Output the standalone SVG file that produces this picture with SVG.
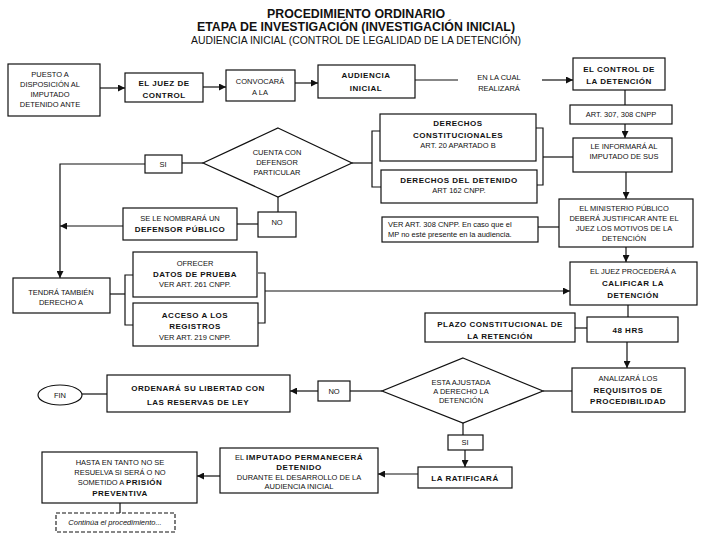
<svg xmlns="http://www.w3.org/2000/svg" width="720" height="540" viewBox="0 0 720 540">
<style>
.b{fill:#fff;stroke:#111;stroke-width:1.2}
.d{fill:#fff;stroke:#111;stroke-width:1.1;stroke-dasharray:4 2}
.c{fill:none;stroke:#111;stroke-width:1.2}
text{font-family:"Liberation Sans",Arial,sans-serif;font-size:7.5px;text-anchor:middle;fill:#111}
.k{font-weight:bold;letter-spacing:0.5px;font-size:8px}
.h{font-weight:bold;font-size:12.5px}
.s{font-size:10.5px}
.l{text-anchor:start}
.i{font-style:italic}
</style>
<defs>
<marker id="a" viewBox="0 0 10 10" refX="10" refY="5" markerWidth="7" markerHeight="7" markerUnits="userSpaceOnUse" orient="auto">
<path d="M0,0 L10,5 L0,10 z" fill="#111"/>
</marker>
</defs>
<rect width="720" height="540" fill="#fff"/>
<g id="title">
<text class="h" x="356" y="18" textLength="178" lengthAdjust="spacingAndGlyphs">PROCEDIMIENTO ORDINARIO</text>
<text class="h" x="356" y="31" textLength="318" lengthAdjust="spacingAndGlyphs">ETAPA DE INVESTIGACIÓN (INVESTIGACIÓN INICIAL)</text>
<text class="s" x="356" y="44" textLength="330" lengthAdjust="spacingAndGlyphs">AUDIENCIA INICIAL (CONTROL DE LEGALIDAD DE LA DETENCIÓN)</text>
</g>
<g id="connectors">
<line class="c" x1="100" y1="88" x2="125" y2="88" marker-end="url(#a)"/>
<line class="c" x1="203" y1="87" x2="226" y2="87" marker-end="url(#a)"/>
<line class="c" x1="295" y1="83" x2="318" y2="83" marker-end="url(#a)"/>
<line class="c" x1="415" y1="80" x2="458" y2="80"/>
<line class="c" x1="542" y1="80" x2="573" y2="80" marker-end="url(#a)"/>
<line class="c" x1="625" y1="90" x2="625" y2="105"/>
<line class="c" x1="625" y1="124" x2="625" y2="138" marker-end="url(#a)"/>
<line class="c" x1="626" y1="172" x2="626" y2="199" marker-end="url(#a)"/>
<line class="c" x1="626" y1="247" x2="626" y2="262" marker-end="url(#a)"/>
<line class="c" x1="628" y1="305" x2="628" y2="317"/>
<line class="c" x1="575" y1="328" x2="587" y2="328"/>
<line class="c" x1="627" y1="342" x2="627" y2="368" marker-end="url(#a)"/>
<line class="c" x1="572" y1="391" x2="543" y2="391"/>
<line class="c" x1="382" y1="391" x2="350" y2="391"/>
<line class="c" x1="318" y1="391" x2="290" y2="391" marker-end="url(#a)"/>
<line class="c" x1="107" y1="394" x2="82" y2="394"/>
<line class="c" x1="463" y1="422" x2="463" y2="435"/>
<line class="c" x1="465" y1="450" x2="465" y2="467" marker-end="url(#a)"/>
<line class="c" x1="418" y1="474" x2="378" y2="474" marker-end="url(#a)"/>
<line class="c" x1="220" y1="476" x2="197" y2="476" marker-end="url(#a)"/>
<line class="c" x1="120" y1="503" x2="120" y2="513"/>
<line class="c" x1="203" y1="163" x2="182" y2="163"/>
<polyline class="c" points="145,164 60,164 60,278" marker-end="url(#a)"/>
<line class="c" x1="278" y1="197" x2="278" y2="212"/>
<line class="c" x1="258" y1="224" x2="237" y2="224"/>
<line class="c" x1="123" y1="226" x2="60" y2="226" marker-end="url(#a)"/>
<line class="c" x1="352" y1="163" x2="372" y2="163"/>
<path class="c" d="M380,131 H372 V187 H381"/>
<path class="c" d="M536,128 H543 V185 H537"/>
<line class="c" x1="543" y1="157" x2="573" y2="157"/>
<line class="c" x1="538" y1="227" x2="559" y2="227"/>
<line class="c" x1="110" y1="294" x2="125" y2="294"/>
<path class="c" d="M133,275 H125 V325 H133"/>
<path class="c" d="M258,273 H265 V323 H258"/>
<line class="c" x1="265" y1="291" x2="570" y2="291" marker-end="url(#a)"/>
</g>
<g id="n1"><rect class="b" x="8" y="64" width="92" height="52"/>
<text x="50" y="77">PUESTO A</text><text x="50" y="87">DISPOSICIÓN AL</text><text x="50" y="97">IMPUTADO</text><text x="50" y="107">DETENIDO ANTE</text></g>
<g id="n2"><rect class="b" x="125" y="73" width="78" height="29"/>
<text class="k" x="164" y="86">EL JUEZ DE</text><text class="k" x="164" y="98">CONTROL</text></g>
<g id="n3"><rect class="b" x="226" y="70" width="69" height="31"/>
<text x="260" y="84">CONVOCARÁ</text><text x="260" y="95">A LA</text></g>
<g id="n4"><rect class="b" x="318" y="65" width="97" height="33"/>
<text class="k" x="366" y="78">AUDIENCIA</text><text class="k" x="366" y="91">INICIAL</text></g>
<g id="n4b"><text x="499" y="80">EN LA CUAL</text><text x="499" y="91">REALIZARÁ</text></g>
<g id="n5"><rect class="b" x="573" y="58" width="92" height="32"/>
<text class="k" x="619" y="72">EL CONTROL DE</text><text class="k" x="619" y="84">LA DETENCIÓN</text></g>
<g id="n6"><rect class="b" x="570" y="105" width="102" height="19"/>
<text x="621" y="117">ART. 307, 308 CNPP</text></g>
<g id="n7"><rect class="b" x="573" y="138" width="99" height="34"/>
<text x="624" y="149">LE INFORMARÁ AL</text><text x="624" y="159">IMPUTADO DE SUS</text></g>
<g id="n8"><rect class="b" x="559" y="199" width="134" height="48"/>
<text x="624" y="211">EL MINISTERIO PÚBLICO</text><text x="624" y="221">DEBERÁ JUSTIFICAR ANTE EL</text><text x="624" y="231">JUEZ LOS MOTIVOS DE LA</text><text x="624" y="241">DETENCIÓN</text></g>
<g id="n9"><rect class="b" x="570" y="262" width="127" height="43"/>
<text x="633" y="274">EL JUEZ PROCEDERÁ A</text><text class="k" x="633" y="286">CALIFICAR LA</text><text class="k" x="633" y="298">DETENCIÓN</text></g>
<g id="n10"><rect class="b" x="425" y="313" width="150" height="29"/>
<text class="k" x="500" y="327">PLAZO CONSTITUCIONAL DE</text><text class="k" x="500" y="339">LA RETENCIÓN</text></g>
<g id="n11"><rect class="b" x="587" y="317" width="91" height="25"/>
<text class="k" x="628" y="333">48 HRS</text></g>
<g id="n12"><rect class="b" x="572" y="368" width="113" height="44"/>
<text x="628" y="381">ANALIZARÁ LOS</text><text class="k" x="628" y="393">REQUISITOS DE</text><text class="k" x="628" y="404">PROCEDIBILIDAD</text></g>
<g id="n13"><polygon class="b" points="463,358 543,391 463,423 382,391"/>
<text x="461" y="385">ESTA AJUSTADA</text><text x="461" y="394">A DERECHO LA</text><text x="461" y="403">DETENCIÓN</text></g>
<g id="n13no"><rect class="b" x="318" y="381" width="32" height="20"/>
<text x="334" y="394">NO</text></g>
<g id="n14"><rect class="b" x="107" y="375" width="183" height="37"/>
<text class="k" x="198" y="391">ORDENARÁ SU LIBERTAD CON</text><text class="k" x="198" y="405">LAS RESERVAS DE LEY</text></g>
<g id="n15"><ellipse class="b" cx="60" cy="395" rx="22" ry="10"/>
<text x="60" y="398">FIN</text></g>
<g id="n13si"><rect class="b" x="448" y="435" width="35" height="15"/>
<text x="465" y="445">SI</text></g>
<g id="n16"><rect class="b" x="418" y="467" width="94" height="21"/>
<text class="k" x="465" y="481">LA RATIFICARÁ</text></g>
<g id="n17"><rect class="b" x="220" y="448" width="158" height="45"/>
<text x="299" y="460">EL <tspan class="k">IMPUTADO PERMANECERÁ</tspan></text><text class="k" x="299" y="470">DETENIDO</text><text x="299" y="480">DURANTE EL DESARROLLO DE LA</text><text x="299" y="489">AUDIENCIA INICIAL</text></g>
<g id="n18"><rect class="b" x="42" y="452" width="155" height="51"/>
<text x="120" y="465">HASTA EN TANTO NO SE</text><text x="120" y="475">RESUELVA SI SERÁ O NO</text><text x="120" y="485">SOMETIDO A <tspan class="k">PRISIÓN</tspan></text><text class="k" x="120" y="496">PREVENTIVA</text></g>
<g id="n19"><rect class="d" x="56" y="513" width="119" height="19"/>
<text class="i" x="115" y="525">Continúa el procedimiento...</text></g>
<g id="n20"><polygon class="b" points="278,128 352,163 278,197 203,163"/>
<text x="277" y="155">CUENTA CON</text><text x="277" y="165">DEFENSOR</text><text x="277" y="175">PARTICULAR</text></g>
<g id="n20si"><rect class="b" x="145" y="155" width="37" height="18"/>
<text x="163" y="167">SI</text></g>
<g id="n22"><rect class="b" x="380" y="114" width="156" height="47"/>
<text class="k" x="458" y="126">DERECHOS</text><text class="k" x="458" y="138">CONSTITUCIONALES</text><text x="458" y="148">ART. 20 APARTADO B</text></g>
<g id="n23"><rect class="b" x="381" y="170" width="156" height="33"/>
<text class="k" x="459" y="183">DERECHOS DEL DETENIDO</text><text x="459" y="193">ART 162 CNPP.</text></g>
<g id="n24"><rect class="b" x="382" y="217" width="156" height="25"/>
<text class="l" x="388" y="227" font-size="7">VER ART. 308 CNPP. En caso que el</text><text class="l" x="388" y="237" font-size="7">MP no esté presente en la audiencia.</text></g>
<g id="n25"><rect class="b" x="123" y="208" width="114" height="32"/>
<text x="180" y="221">SE LE NOMBRARÁ UN</text><text class="k" x="180" y="232">DEFENSOR PÚBLICO</text></g>
<g id="n20no"><rect class="b" x="258" y="212" width="38" height="25"/>
<text x="277" y="225">NO</text></g>
<g id="n27"><rect class="b" x="13" y="278" width="97" height="35"/>
<text x="61" y="295">TENDRÁ TAMBIÉN</text><text x="61" y="305">DERECHO A</text></g>
<g id="n28"><rect class="b" x="133" y="252" width="124" height="45"/>
<text x="195" y="266">OFRECER</text><text class="k" x="195" y="277">DATOS DE PRUEBA</text><text x="195" y="287">VER ART. 261 CNPP.</text></g>
<g id="n29"><rect class="b" x="133" y="303" width="125" height="43"/>
<text class="k" x="195" y="318">ACCESO A LOS</text><text class="k" x="195" y="329">REGISTROS</text><text x="195" y="340">VER ART. 219 CNPP.</text></g>
</svg>
